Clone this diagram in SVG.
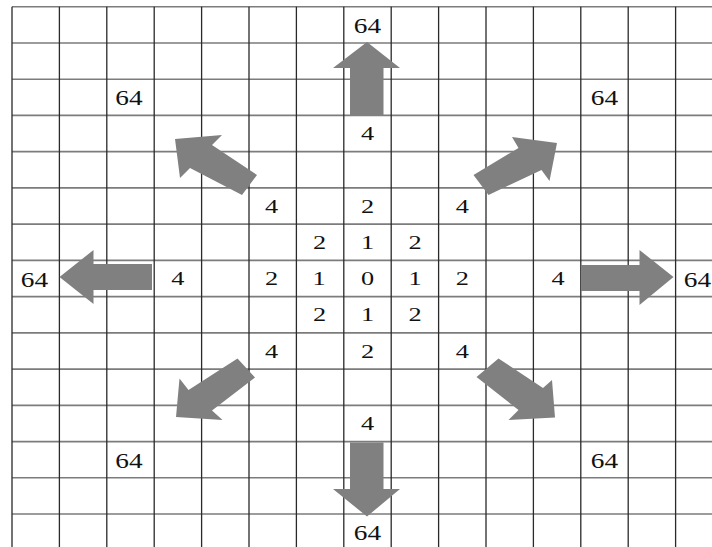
<svg xmlns="http://www.w3.org/2000/svg" width="712" height="547" viewBox="0 0 712 547">
<style>
.h{stroke:#7c7c7c;stroke-width:1.6;fill:none}
.v{stroke:#2a2a2a;stroke-width:1.3;fill:none}
.arrow{fill:#808080;stroke:none}
text{font-family:"Liberation Serif","Times New Roman",serif;fill:#111;text-anchor:middle}
.d{font-size:19.5px}
.n{font-size:21px}
</style>
<rect width="712" height="547" fill="#fff"/>
<g id="grid">
<path class="h" d="M12 6.7H712M12 42.94H712M12 79.18H712M12 115.42H712M12 151.66H712M12 187.9H712M12 224.14H712M12 260.38H712M12 296.62H712M12 332.86H712M12 369.1H712M12 405.34H712M12 441.58H712M12 477.82H712M12 514.06H712"/>
<path class="v" d="M12 6.7V547M59.4 6.7V547M106.8 6.7V547M154.2 6.7V547M201.6 6.7V547M249 6.7V547M296.4 6.7V547M343.8 6.7V547M391.2 6.7V547M438.6 6.7V547M486 6.7V547M533.4 6.7V547M580.8 6.7V547M628.2 6.7V547M675.6 6.7V547"/>
</g>
<g id="connectors">
<polygon class="arrow" points="367,42 400,68 383.5,68 383.5,116 350,116 350,68 333,68"/>
<polygon class="arrow" points="367,516.5 400,489 383.5,489 383.5,442.5 350,442.5 350,489 333,489"/>
<polygon class="arrow" points="59.5,277 93.5,250 93.5,264 152,264 152,290 93.5,290 93.5,304"/>
<polygon class="arrow" points="673.5,277 639.5,250 639.5,265 581,265 581,291 639.5,291 639.5,305"/>
<polygon class="arrow" points="175,139 222,135 212,145 257,175 242,195 190,168 180,178"/>
<polygon class="arrow" points="557,143 512,137 518.5,148 473.5,175 488.5,195 541.5,170 549.5,181"/>
<polygon class="arrow" points="176,417 222.5,420 212,410.5 255,377.5 237.5,358.5 188.5,390 179.5,378.5"/>
<polygon class="arrow" points="555,417.5 508.5,420 518.5,410 476.5,377 498.5,358.5 543,388 552,380"/>
</g>
<g id="labels">
<g id="n-top"><text class="n" transform="translate(367.5 33) scale(1.3 1)">64</text></g>
<g id="n-nw"><text class="n" transform="translate(129 105.3) scale(1.3 1)">64</text></g>
<g id="n-ne"><text class="n" transform="translate(604.5 105.3) scale(1.3 1)">64</text></g>
<g id="n-w"><text class="n" transform="translate(34.5 286.5) scale(1.3 1)">64</text></g>
<g id="n-e"><text class="n" transform="translate(697.5 286.5) scale(1.3 1)">64</text></g>
<g id="n-sw"><text class="n" transform="translate(129 467.7) scale(1.3 1)">64</text></g>
<g id="n-se"><text class="n" transform="translate(604.5 467.7) scale(1.3 1)">64</text></g>
<g id="n-bottom"><text class="n" transform="translate(367.5 540.2) scale(1.3 1)">64</text></g>

<g id="r3"><text class="d" transform="translate(367.5 140) scale(1.35 1)">4</text></g>
<g id="r5">
<text class="d" transform="translate(271.5 212.5) scale(1.35 1)">4</text>
<text class="d" transform="translate(367.5 212.5) scale(1.35 1)">2</text>
<text class="d" transform="translate(462.3 212.5) scale(1.35 1)">4</text>
</g>
<g id="r6">
<text class="d" transform="translate(319.5 248.8) scale(1.35 1)">2</text>
<text class="d" transform="translate(367.5 248.8) scale(1.35 1)">1</text>
<text class="d" transform="translate(415 248.8) scale(1.35 1)">2</text>
</g>
<g id="r7">
<text class="d" transform="translate(177.9 285) scale(1.35 1)">4</text>
<text class="d" transform="translate(271.5 285) scale(1.35 1)">2</text>
<text class="d" transform="translate(319 285) scale(1.35 1)">1</text>
<text class="d" transform="translate(367.5 285) scale(1.35 1)">0</text>
<text class="d" transform="translate(415 285) scale(1.35 1)">1</text>
<text class="d" transform="translate(462.3 285) scale(1.35 1)">2</text>
<text class="d" transform="translate(558 285) scale(1.35 1)">4</text>
</g>
<g id="r8">
<text class="d" transform="translate(319.5 321.2) scale(1.35 1)">2</text>
<text class="d" transform="translate(367.5 321.2) scale(1.35 1)">1</text>
<text class="d" transform="translate(415 321.2) scale(1.35 1)">2</text>
</g>
<g id="r9">
<text class="d" transform="translate(271.5 357.5) scale(1.35 1)">4</text>
<text class="d" transform="translate(367.5 357.5) scale(1.35 1)">2</text>
<text class="d" transform="translate(462.3 357.5) scale(1.35 1)">4</text>
</g>
<g id="r11"><text class="d" transform="translate(367.5 430) scale(1.35 1)">4</text></g>
</g>
</svg>
